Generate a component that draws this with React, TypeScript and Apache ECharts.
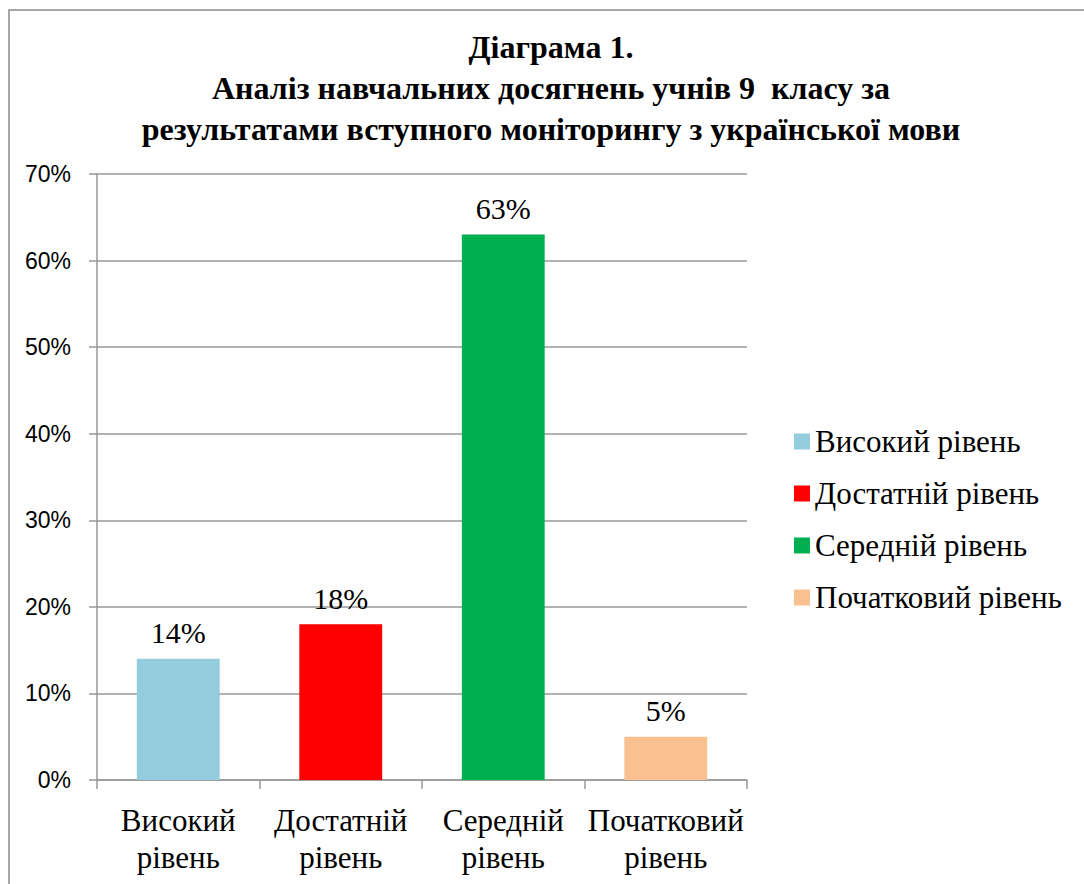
import React, { useEffect, useRef } from "react";
import * as echarts from "echarts";

const categories = ["Високий\nрівень", "Достатній\nрівень", "Середній\nрівень", "Початковий\nрівень"];
const seriesNames = ["Високий рівень", "Достатній рівень", "Середній рівень", "Початковий рівень"];
const values = [14, 18, 63, 5];
const colors = ["#93CDDD", "#FF0000", "#00B050", "#FAC090"];
const yTicks = { min: 0, max: 70, interval: 10 };
const titleLines = [
  "Діаграма 1.",
  "Аналіз навчальних досягнень учнів 9  класу за",
  "результатами вступного моніторингу з української мови",
];

const SERIF = "Liberation Serif";
const SANS = "Liberation Sans";

export default function App() {
  const ref = useRef<HTMLDivElement>(null);
  useEffect(() => {
    const chart = echarts.init(ref.current!, null, { renderer: "svg" });
    const series = seriesNames.map((name, i) => ({
      name,
      type: "bar",
      stack: "all",
      barWidth: "51%",
      itemStyle: { color: colors[i] },
      label: {
        show: true,
        position: "top",
        distance: 11,
        formatter: "{c}%",
        fontFamily: SERIF,
        fontSize: 30,
        color: "#000",
      },
      data: values.map((v, j) => (j === i ? v : "-")),
    }));
    chart.setOption({
      animation: false,
      backgroundColor: "#fff",
      graphic: [
        {
          type: "rect",
          shape: { x: 9, y: 10, width: 1200, height: 1000 },
          style: { fill: "none", stroke: "#8a8a8a", lineWidth: 1.5 },
          silent: true,
        },
        ...titleLines.map((t, i) => ({
          type: "text",
          x: 551,
          y: 47 + i * 41,
          style: {
            text: t,
            fontFamily: SERIF,
            fontWeight: "bold",
            fontSize: 32,
            align: "center",
            verticalAlign: "middle",
            fill: "#000",
          },
        })),
      ],
      legend: {
        orient: "vertical",
        left: 789,
        top: 421,
        itemWidth: 16,
        itemHeight: 16,
        itemGap: 21,
        icon: "rect",
        textStyle: { fontFamily: SERIF, fontSize: 31, color: "#000" },
        data: seriesNames,
      },
      grid: { left: 97, right: 337, top: 174, bottom: 104, containLabel: false },
      xAxis: {
        type: "category",
        data: categories,
        axisLine: { show: true, lineStyle: { color: "#999", width: 1.5 } },
        axisTick: { show: true, length: 9, lineStyle: { color: "#999", width: 1.5 } },
        axisLabel: {
          fontFamily: SERIF,
          fontSize: 31,
          lineHeight: 37,
          color: "#000",
          margin: 22,
          interval: 0,
        },
      },
      yAxis: {
        type: "value",
        min: yTicks.min,
        max: yTicks.max,
        interval: yTicks.interval,
        axisLine: { show: true, lineStyle: { color: "#999", width: 1.5 } },
        axisTick: { show: true, length: 8, lineStyle: { color: "#999", width: 1.5 } },
        splitLine: { show: true, lineStyle: { color: "#999", width: 1.5 } },
        axisLabel: {
          formatter: "{value}%",
          fontFamily: SANS,
          fontSize: 23,
          color: "#000",
          margin: 26,
        },
      },
      series,
    });
    return () => chart.dispose();
  }, []);
  return (
    <div
      ref={ref}
      style={{ position: "fixed", left: 0, top: 0, width: 1084, height: 884 }}
    />
  );
}
